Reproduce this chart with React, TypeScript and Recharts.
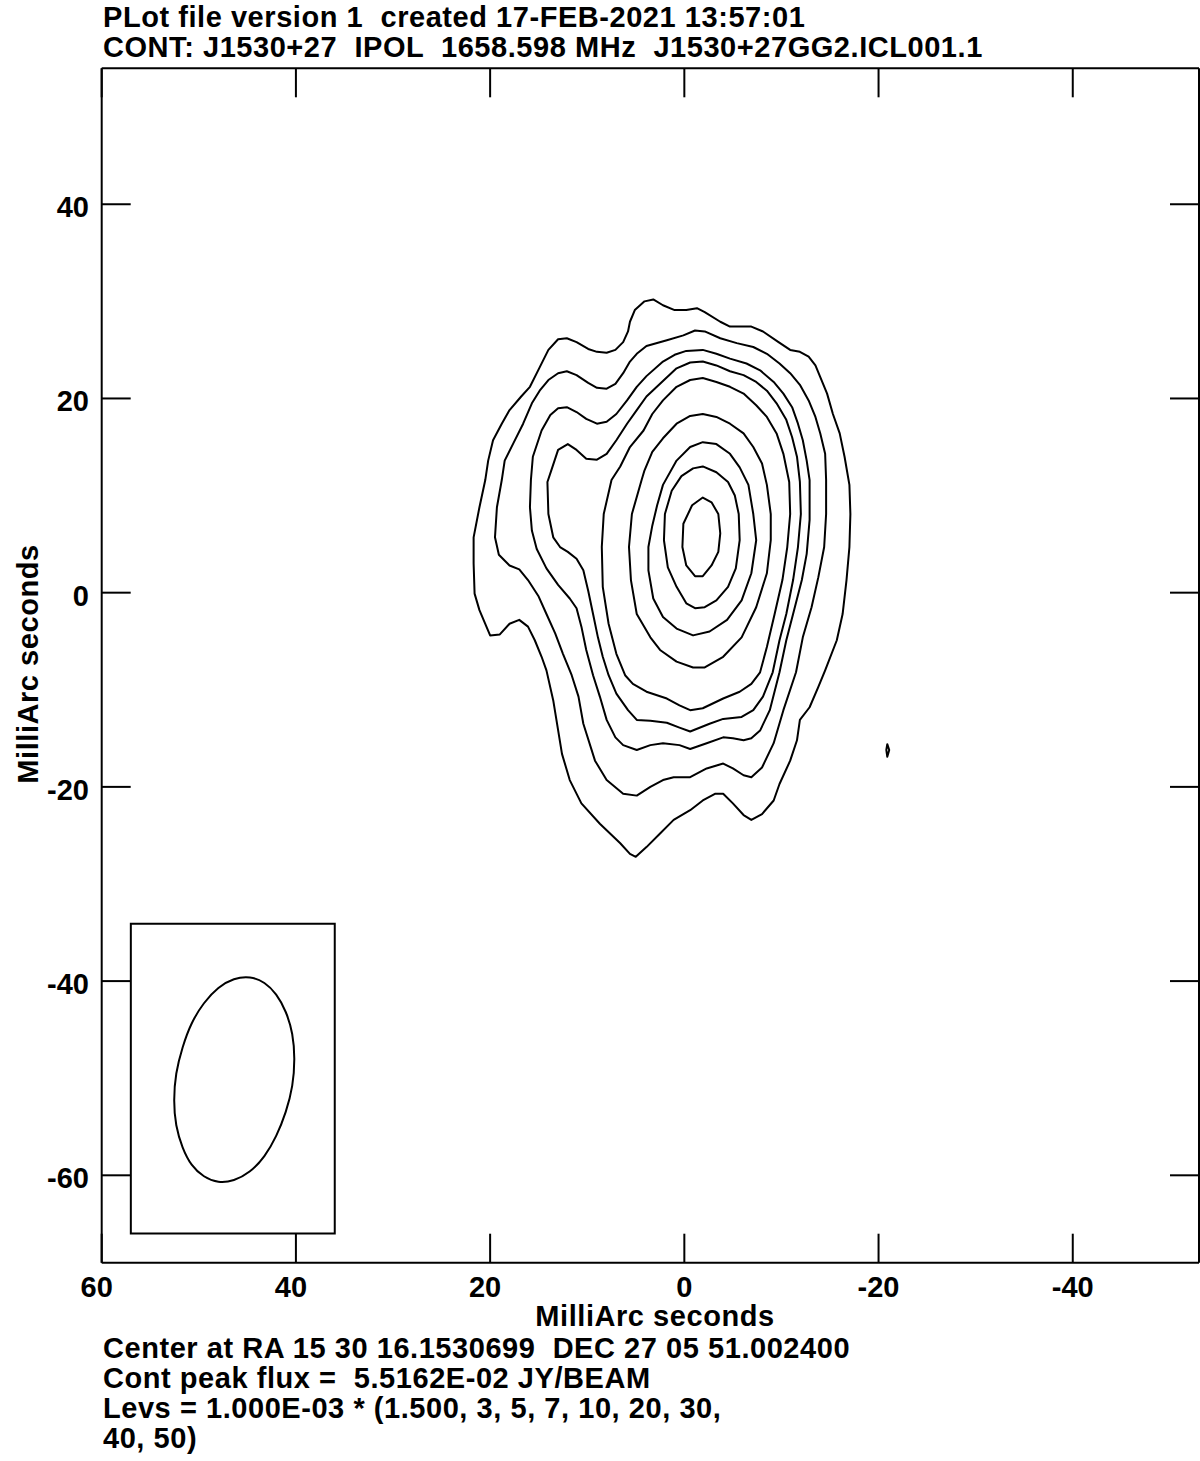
import React from 'react';
import {
  ScatterChart,
  Scatter,
  XAxis,
  YAxis,
  ReferenceArea,
} from 'recharts';

// AIPS CONT plot of J1530+27, IPOL 1658.598 MHz.

type Pt = [number, number];

const X_TICKS = [60, 40, 20, 0, -20, -40];
const Y_TICKS = [40, 20, 0, -20, -40, -60];
const X_DOMAIN: [number, number] = [-53, 60];
const Y_DOMAIN: [number, number] = [-69, 54];

// 1.5 mJy/beam
const lev1: Pt[] = [
  [14.2, -8.0], [14.7, -6.6], [15.4, -4.9], [16.1, -3.5], [17.0, -2.8], [18.0, -3.2], [19.0, -4.3],
  [20.0, -4.4], [21.1, -1.8], [21.6, -0.1], [21.7, 3.0], [21.7, 5.7], [21.1, 8.8], [20.5, 11.6],
  [20.2, 13.6], [19.7, 15.7], [18.8, 17.4], [18.0, 18.8], [16.8, 20.2], [15.9, 21.2], [14.9, 23.2],
  [14.0, 25.0], [13.0, 26.1], [12.1, 26.2], [11.1, 25.8], [9.9, 25.1], [9.0, 24.8], [8.0, 24.7],
  [7.1, 25.0], [6.3, 25.8], [5.8, 26.9], [5.6, 27.9], [5.1, 29.1], [4.1, 30.0], [3.2, 30.2],
  [2.2, 29.6], [1.0, 29.1], [-0.2, 29.1], [-1.3, 29.3], [-2.1, 28.9], [-3.7, 27.9], [-4.7, 27.4],
  [-6.9, 27.4], [-8.1, 26.9], [-9.7, 25.8], [-10.9, 25.0], [-11.9, 24.8], [-12.8, 24.3],
  [-13.5, 23.4], [-14.0, 22.2], [-14.7, 20.5], [-15.3, 18.4], [-16.0, 16.4], [-16.5, 14.0],
  [-17.0, 11.1], [-17.1, 8.1], [-17.0, 4.7], [-16.7, 1.3], [-16.3, -2.2], [-15.7, -4.9],
  [-14.5, -8.0], [-13.8, -9.7], [-12.9, -11.8], [-11.9, -13.1], [-11.6, -15.2], [-10.9, -17.3],
  [-9.8, -19.7], [-9.2, -21.4], [-8.0, -22.8], [-6.9, -23.4], [-6.1, -22.9], [-5.0, -21.7],
  [-4.0, -20.7], [-3.2, -20.7], [-1.9, -21.4], [-0.6, -22.4], [1.1, -23.4], [2.5, -24.8],
  [3.9, -26.2], [5.0, -27.2], [5.6, -26.9], [6.6, -25.8], [8.7, -23.8], [10.6, -21.7],
  [11.8, -19.3], [12.6, -16.6], [13.5, -11.1],
];

// 3 mJy/beam
const lev2: Pt[] = [
  [11.6, -8.5], [12.5, -6.3], [13.3, -4.2], [14.2, -2.2], [15.0, -0.4], [16.1, 1.3], [17.0, 2.4],
  [18.0, 2.8], [19.1, 3.9], [19.5, 5.7], [19.3, 8.8], [18.8, 11.6], [18.5, 13.6], [17.6, 15.4],
  [16.6, 17.4], [15.7, 19.5], [14.9, 20.8], [14.0, 21.9], [13.0, 22.6], [12.1, 22.8], [11.1, 22.4],
  [9.9, 21.6], [9.0, 21.1], [8.0, 21.0], [7.1, 21.5], [6.3, 22.6], [5.6, 23.8], [4.9, 24.6],
  [3.9, 25.4], [1.8, 26.0], [0.1, 26.5], [-1.1, 27.0], [-2.1, 26.9], [-3.7, 26.2], [-5.4, 25.7],
  [-7.1, 25.3], [-8.5, 24.6], [-9.8, 23.6], [-10.9, 22.6], [-11.9, 21.4], [-12.8, 19.8],
  [-13.5, 18.1], [-14.0, 16.4], [-14.5, 14.3], [-14.6, 11.6], [-14.6, 8.1], [-14.4, 4.7],
  [-13.8, 1.6], [-13.1, -1.5], [-12.2, -4.6], [-11.5, -8.2], [-10.2, -12.1], [-9.2, -15.5],
  [-8.0, -18.0], [-6.9, -19.0], [-6.1, -18.8], [-5.0, -18.1], [-4.0, -17.6], [-2.3, -18.1],
  [-0.6, -19.0], [1.1, -19.0], [2.2, -19.3], [3.5, -20.0], [4.9, -20.9], [6.3, -20.7],
  [8.0, -19.3], [9.2, -17.3], [10.4, -13.5], [10.9, -10.7],
];

// 5 mJy/beam
const lev3: Pt[] = [
  [9.4, -8.5], [10.1, -5.9], [10.6, -3.5], [11.1, -1.6], [11.8, -0.6], [13.0, 0.8], [14.2, 2.5],
  [15.2, 4.5], [15.7, 6.4], [15.9, 8.8], [15.8, 11.6], [15.6, 14.0], [14.7, 16.7], [13.8, 18.3],
  [13.0, 19.0], [12.1, 19.1], [11.1, 18.6], [10.1, 17.9], [9.0, 17.4], [8.0, 17.6], [7.0, 18.4],
  [5.9, 19.8], [4.9, 21.2], [3.9, 22.3], [2.2, 23.8], [1.0, 24.5], [-0.2, 24.9], [-1.9, 25.0],
  [-3.3, 24.6], [-4.7, 24.1], [-6.4, 23.6], [-7.8, 22.9], [-9.2, 21.7], [-10.2, 20.5],
  [-11.1, 19.1], [-11.7, 17.4], [-12.2, 15.7], [-12.6, 13.6], [-12.9, 11.6], [-12.9, 7.5],
  [-12.6, 4.0], [-12.1, 1.3], [-11.2, -2.2], [-10.5, -4.9], [-9.8, -8.2], [-8.8, -12.1],
  [-7.8, -14.2], [-6.9, -15.0], [-6.1, -15.2], [-5.0, -15.0], [-4.0, -14.9], [-2.3, -15.5],
  [-0.6, -16.1], [0.5, -15.7], [2.2, -15.5], [3.5, -15.7], [4.9, -16.2], [6.3, -15.7],
  [7.1, -14.9], [8.0, -13.1], [8.7, -10.7],
];

// 7 mJy/beam
const lev4: Pt[] = [
  [7.8, -8.5], [8.4, -6.6], [8.9, -4.6], [9.4, -2.2], [9.9, 0.2], [10.4, 2.3], [11.1, 3.5],
  [12.0, 4.2], [12.8, 4.7], [13.5, 5.7], [14.0, 8.1], [14.1, 11.4], [13.7, 12.6], [13.0, 14.7],
  [12.0, 15.3], [11.1, 14.7], [10.1, 13.8], [9.0, 13.7], [8.0, 14.3], [7.0, 15.7], [5.9, 17.4],
  [4.9, 18.8], [3.9, 20.2], [2.2, 21.8], [0.8, 23.1], [-0.6, 23.7], [-1.9, 23.8], [-3.3, 23.4],
  [-4.7, 22.8], [-6.1, 22.4], [-7.4, 21.7], [-8.5, 20.8], [-9.5, 19.5], [-10.5, 17.8],
  [-11.1, 16.0], [-11.6, 14.0], [-11.9, 11.4], [-12.0, 8.1], [-11.7, 4.7], [-11.2, 1.3],
  [-10.5, -2.2], [-9.8, -4.9], [-9.1, -8.2], [-8.1, -10.7], [-7.1, -12.1], [-5.9, -12.8],
  [-4.0, -13.0], [-2.6, -13.5], [-0.6, -14.3], [0.5, -13.9], [1.8, -13.4], [3.5, -13.2],
  [4.9, -13.1], [5.8, -12.1], [7.0, -10.4],
];

// 10 mJy/beam
const lev5: Pt[] = [
  [6.1, -8.5], [7.0, -6.3], [7.8, -3.2], [8.4, 0.6], [8.5, 4.7], [8.3, 8.1], [7.5, 11.6],
  [6.6, 13.0], [5.6, 15.0], [4.2, 16.7], [3.3, 18.4], [2.2, 19.8], [0.8, 21.2], [-0.6, 21.9],
  [-1.9, 22.1], [-3.3, 21.7], [-4.7, 21.2], [-6.1, 20.5], [-7.4, 19.3], [-8.5, 18.1],
  [-9.5, 16.4], [-10.2, 14.3], [-10.8, 11.4], [-10.9, 8.1], [-10.6, 4.7], [-10.1, 1.3],
  [-9.3, -2.2], [-8.5, -5.6], [-7.8, -8.2], [-6.9, -9.4], [-5.7, -10.2], [-4.0, -10.9],
  [-1.9, -11.9], [-0.6, -12.1], [0.5, -11.6], [1.8, -10.9], [3.9, -10.2], [5.3, -9.4],
];

// 20 mJy/beam
const lev6: Pt[] = [
  [2.5, -5.9], [3.5, -4.6], [4.9, -2.2], [5.5, 1.3], [5.7, 4.7], [5.4, 8.1], [4.4, 11.6],
  [4.1, 12.6], [3.3, 14.5], [2.2, 15.9], [0.8, 17.4], [-0.6, 18.2], [-1.9, 18.4], [-3.3, 18.1],
  [-4.7, 17.4], [-6.1, 16.4], [-7.1, 15.0], [-8.0, 13.3], [-8.5, 11.1], [-8.9, 8.1], [-8.9, 5.4],
  [-8.5, 2.0], [-7.4, -1.5], [-5.9, -4.6], [-4.0, -6.6], [-2.1, -7.7], [-0.9, -7.7], [0.8, -7.1],
];

// 30 mJy/beam
const lev7: Pt[] = [
  [2.2, -2.5], [3.2, -0.6], [3.7, 2.3], [3.7, 4.7], [3.3, 6.9], [2.8, 9.0], [2.2, 11.1],
  [0.8, 13.6], [-0.6, 15.0], [-1.9, 15.5], [-3.3, 15.3], [-4.7, 14.3], [-5.7, 12.9], [-6.6, 11.1],
  [-7.1, 8.1], [-7.4, 5.4], [-6.9, 2.0], [-5.9, -0.8], [-4.4, -2.8], [-2.6, -4.0], [-0.9, -4.4],
  [0.8, -3.7],
];

// 40 mJy/beam
const lev8: Pt[] = [
  [0.8, 0.6], [1.7, 2.6], [2.1, 5.4], [2.0, 8.1], [1.3, 10.5], [0.3, 12.0], [-0.9, 12.8],
  [-1.9, 13.0], [-3.3, 12.4], [-4.5, 11.4], [-5.2, 10.0], [-5.6, 8.1], [-5.7, 5.4], [-5.3, 2.5],
  [-4.5, 0.6], [-3.3, -0.8], [-2.1, -1.5], [-1.1, -1.6], [-0.2, -1.1],
];

// 50 mJy/beam
const lev9: Pt[] = [
  [-1.9, 9.8], [-2.8, 9.3], [-3.5, 8.1], [-3.7, 6.1], [-3.5, 4.2], [-2.8, 2.8], [-1.9, 1.7],
  [-1.1, 1.7], [-0.2, 2.8], [0.2, 4.7], [0.1, 7.1], [-0.8, 9.0],
];

// isolated 1.5 mJy/beam speck east of the source
const speck: Pt[] = [[-20.9, -15.6], [-21.1, -16.2], [-20.9, -16.9], [-20.8, -16.2]];

// restoring beam, drawn in the lower left box
const beam: Pt[] = [
  [40.1, -48.0], [40.3, -45.4], [41.0, -43.1], [42.0, -41.3], [43.2, -40.1], [44.7, -39.5],
  [46.4, -39.7], [48.0, -40.6], [49.5, -42.2], [50.8, -44.3], [51.7, -46.8], [52.4, -49.5],
  [52.6, -52.3], [52.4, -54.9], [51.7, -57.2], [50.8, -59.0], [49.5, -60.2], [48.0, -60.8],
  [46.4, -60.6], [44.7, -59.7], [43.2, -58.1], [42.0, -56.0], [41.0, -53.5], [40.3, -50.8],
];
const beamBoxX = [57.0, 36.0];
const beamBoxY = [-66.0, -34.1];

const contours = [lev1, lev2, lev3, lev4, lev5, lev6, lev7, lev8, lev9, speck];

const FONT = '"Liberation Sans", Arial, Helvetica, sans-serif';
const INK = '#000';

const toRows = (pts: Pt[]) => pts.map(([x, y]) => ({ x, y }));
const noDot = () => <g />;
const noTick = () => <g />;

// AIPS sets the unsigned labels a little left of their tick
function XTick({ x, y, payload }: any) {
  return (
    <text
      x={x}
      y={y}
      dx={payload.value > 0 ? -5 : 0}
      textAnchor="middle"
      fontSize={29}
      fontWeight="bold"
      fontFamily={FONT}
      fill={INK}
    >
      {payload.value}
    </text>
  );
}

function YTick({ x, y, payload }: any) {
  return (
    <text x={x} y={y} dy={13} textAnchor="end" fontSize={29} fontWeight="bold" fontFamily={FONT} fill={INK}>
      {payload.value}
    </text>
  );
}

const textStyle = { whiteSpace: 'pre' as const };
const lineStyle = { stroke: INK, strokeWidth: 2, strokeLinejoin: 'round' as const };

export default function App() {
  return (
    <div style={{ position: 'absolute', left: 0, top: 0, width: 1200, height: 1461, background: '#fff' }}>
      <ScatterChart width={1200} height={1461} margin={{ top: 0, right: 0, bottom: 158.3, left: 0 }}>
        <XAxis
          xAxisId="b"
          type="number"
          dataKey="x"
          domain={X_DOMAIN}
          allowDataOverflow
          reversed
          ticks={X_TICKS}
          interval={0}
          height={40}
          tickSize={-29}
          tickMargin={63.3}
          tick={XTick}
          axisLine={{ stroke: INK, strokeWidth: 2 }}
          tickLine={{ stroke: INK, strokeWidth: 2 }}
        />
        <XAxis
          xAxisId="t"
          orientation="top"
          type="number"
          dataKey="x"
          domain={X_DOMAIN}
          allowDataOverflow
          reversed
          ticks={X_TICKS}
          interval={0}
          height={68.3}
          tickSize={-29}
          tick={noTick}
          axisLine={{ stroke: INK, strokeWidth: 2 }}
          tickLine={{ stroke: INK, strokeWidth: 2 }}
        />
        <YAxis
          yAxisId="l"
          type="number"
          dataKey="y"
          domain={Y_DOMAIN}
          allowDataOverflow
          ticks={Y_TICKS}
          interval={0}
          width={101.7}
          tickSize={-29}
          tickMargin={41.7}
          tick={YTick}
          axisLine={{ stroke: INK, strokeWidth: 2 }}
          tickLine={{ stroke: INK, strokeWidth: 2 }}
        />
        <YAxis
          yAxisId="r"
          orientation="right"
          type="number"
          dataKey="y"
          domain={Y_DOMAIN}
          allowDataOverflow
          ticks={Y_TICKS}
          interval={0}
          width={1}
          tickSize={-29}
          tick={noTick}
          axisLine={{ stroke: INK, strokeWidth: 2 }}
          tickLine={{ stroke: INK, strokeWidth: 2 }}
        />
        <ReferenceArea
          xAxisId="b"
          yAxisId="l"
          x1={beamBoxX[0]}
          x2={beamBoxX[1]}
          y1={beamBoxY[0]}
          y2={beamBoxY[1]}
          fill="none"
          fillOpacity={0}
          stroke={INK}
          strokeWidth={2}
        />
        {contours.map((pts, i) => (
          <Scatter
            key={i}
            xAxisId="b"
            yAxisId="l"
            data={toRows(pts)}
            shape={noDot}
            line={lineStyle}
            lineType="joint"
            lineJointType="linearClosed"
            isAnimationActive={false}
          />
        ))}
        <Scatter
          xAxisId="b"
          yAxisId="l"
          data={toRows(beam)}
          shape={noDot}
          line={lineStyle}
          lineType="joint"
          lineJointType="basisClosed"
          isAnimationActive={false}
        />
      </ScatterChart>
      <svg
        width={1200}
        height={1461}
        style={{ position: 'absolute', left: 0, top: 0, pointerEvents: 'none' }}
        fontFamily={FONT}
        fontWeight="bold"
        fontSize={29}
        letterSpacing={0.55}
        fill={INK}
      >
        <text x={103} y={27} style={textStyle}>PLot file version 1  created 17-FEB-2021 13:57:01</text>
        <text x={103} y={57} style={textStyle}>CONT: J1530+27  IPOL  1658.598 MHz  J1530+27GG2.ICL001.1</text>
        <text x={655} y={1326} textAnchor="middle">MilliArc seconds</text>
        <text transform="translate(38,664) rotate(-90)" textAnchor="middle">MilliArc seconds</text>
        <text x={103} y={1358} style={textStyle}>Center at RA 15 30 16.1530699  DEC 27 05 51.002400</text>
        <text x={103} y={1388} style={textStyle}>Cont peak flux =  5.5162E-02 JY/BEAM</text>
        <text x={103} y={1418} style={textStyle}>Levs = 1.000E-03 * (1.500, 3, 5, 7, 10, 20, 30,</text>
        <text x={103} y={1448} style={textStyle}>40, 50)</text>
      </svg>
    </div>
  );
}
